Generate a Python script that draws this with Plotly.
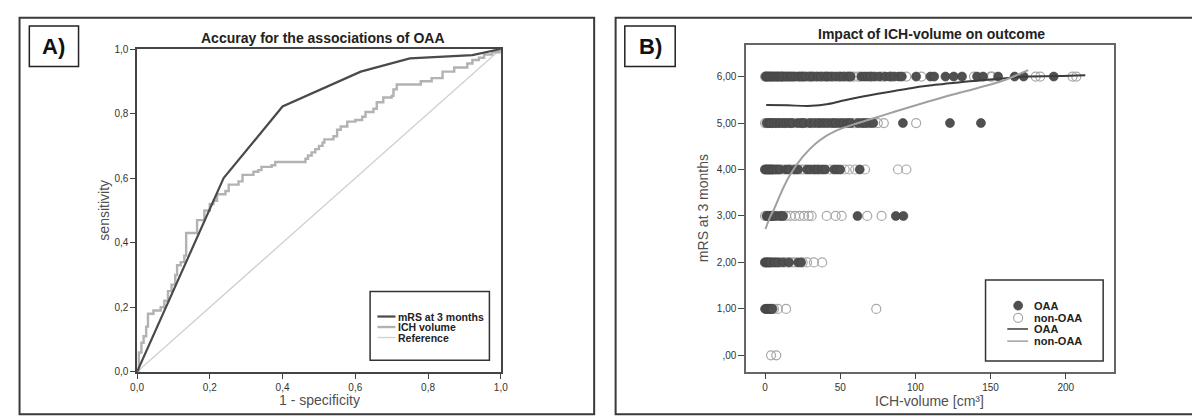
import plotly.graph_objects as go

# ---- panel A: ROC curves ----
roc_names = ["mRS at 3 months", "ICH volume", "Reference"]
roc_mrs_fpr = [0.0, 0.238, 0.40, 0.615, 0.75, 0.922, 1.0]
roc_mrs_tpr = [0.0, 0.60, 0.822, 0.93, 0.971, 0.981, 1.0]
roc_ich_fpr = [0.0, 0.005, 0.012, 0.018, 0.025, 0.030, 0.045, 0.065, 0.075, 0.085,
               0.095, 0.105, 0.110, 0.120, 0.130, 0.135, 0.165, 0.185, 0.200, 0.210,
               0.220, 0.243, 0.252, 0.279, 0.290, 0.320, 0.333, 0.342, 0.370, 0.380,
               0.463, 0.470, 0.480, 0.490, 0.500, 0.510, 0.515, 0.540, 0.550, 0.560,
               0.578, 0.600, 0.619, 0.628, 0.650, 0.659, 0.677, 0.700, 0.705, 0.714,
               0.780, 0.810, 0.840, 0.872, 0.908, 0.922, 0.940, 0.954, 0.976, 1.0]
roc_ich_tpr = [0.0, 0.06, 0.09, 0.11, 0.14, 0.18, 0.19, 0.20, 0.22, 0.25,
               0.27, 0.30, 0.33, 0.34, 0.36, 0.43, 0.47, 0.50, 0.52, 0.53,
               0.55, 0.56, 0.58, 0.59, 0.61, 0.62, 0.625, 0.635, 0.64, 0.65,
               0.66, 0.67, 0.68, 0.69, 0.70, 0.71, 0.72, 0.73, 0.75, 0.76,
               0.775, 0.78, 0.79, 0.805, 0.815, 0.835, 0.85, 0.855, 0.875, 0.89,
               0.90, 0.91, 0.93, 0.943, 0.955, 0.966, 0.973, 0.983, 0.99, 1.0]
ref_x = [0.0, 1.0]
ref_y = [0.0, 1.0]
roc_ticks = [0.0, 0.2, 0.4, 0.6, 0.8, 1.0]
roc_ticktext = ["0,0", "0,2", "0,4", "0,6", "0,8", "1,0"]

# ---- panel B: ICH volume vs mRS ----
oaa_mrs6 = [0.5, 1, 2, 3, 4, 5, 6, 7, 8, 9, 10, 11, 12, 14, 15, 17, 18, 20, 22, 24, 25, 27,
            30, 32, 35, 37, 40, 42, 44, 47, 50, 52, 55, 57, 64, 66, 68, 70, 73, 76, 80, 83,
            86, 89, 91, 100.5, 110, 112.5, 120, 125.5, 131, 141, 145, 155, 166, 172, 192]
oaa_mrs5 = [1, 3, 4, 6, 8, 10, 12, 14, 16, 18, 22, 24, 26, 30, 33, 36, 38, 40, 42, 45,
            47, 50, 52, 55, 57, 62, 65, 67, 70, 72, 91.7, 123, 143.6]
oaa_mrs4 = [0, 1, 2, 3, 4, 5, 6, 8, 10, 14, 16, 20, 22, 28, 30, 33, 35, 38, 40, 46, 48, 50, 63]
oaa_mrs3 = [1, 2, 3, 4, 5, 7, 10, 12, 61.5, 87, 92]
oaa_mrs2 = [0, 1, 2, 3, 4, 6, 7, 9, 12, 16, 22, 24]
oaa_mrs1 = [0, 1, 2, 3, 4, 5]

non_mrs6 = [0, 1, 3, 5, 8, 11, 13, 16, 19, 23, 26, 29, 31, 34, 38, 41, 45, 49, 53, 56, 59,
            62, 71, 78, 84, 94, 104, 139, 150, 151, 180, 183, 204.5, 207]
non_mrs5 = [0, 2, 5, 7, 9, 13, 17, 20, 25, 28, 31, 35, 44, 48, 54, 58, 60, 64, 68, 75, 79, 100.5]
non_mrs4 = [0, 2, 4, 7, 9, 12, 17, 19, 24, 26, 32, 36, 43, 53, 56, 60, 66.5, 88.4, 94]
non_mrs3 = [0, 2, 4, 6, 8, 11, 14, 17, 20, 23, 26, 29, 31, 41, 47, 51, 68, 77.5]
non_mrs2 = [0, 1, 3, 5, 8, 10, 13, 15, 18, 20, 25, 28, 32.5, 38]
non_mrs1 = [1, 3, 4, 6, 8.5, 14, 74]
non_mrs0 = [4, 7.5]

fit_oaa_vol = [0.8, 15, 31, 42, 53, 65, 75, 86, 97, 108, 119, 130, 141, 158, 174, 195, 213]
fit_oaa_mrs = [5.39, 5.38, 5.37, 5.41, 5.49, 5.57, 5.63, 5.69, 5.75, 5.80, 5.84, 5.88,
               5.91, 5.96, 6.0, 6.01, 6.03]
fit_non_vol = [0.3, 3, 6.3, 10, 16, 25, 36, 47, 62, 80, 97, 119, 141, 158, 175]
fit_non_mrs = [2.72, 2.95, 3.17, 3.45, 3.85, 4.27, 4.62, 4.83, 5.0, 5.18, 5.35, 5.56,
               5.75, 5.91, 6.14]
mrs_ticks = [0, 1, 2, 3, 4, 5, 6]
mrs_ticktext = [",00", "1,00", "2,00", "3,00", "4,00", "5,00", "6,00"]
vol_ticks = [0, 50, 100, 150, 200]
group_names = ["OAA", "non-OAA"]

W, H = 1200, 419
FONT = "Liberation Sans, Arial, sans-serif"
DARK = "#4a4a4a"
MID = "#b2b2b2"
LIGHT = "#d2d2d2"
OPEN = "#a8a8a8"


def px(x):
    return x / W


def py(y):
    return 1 - y / H


def rows(by_mrs):
    xs, ys = [], []
    for m, vals in by_mrs:
        xs += vals
        ys += [m] * len(vals)
    return xs, ys


oaa_x, oaa_y = rows([(6, oaa_mrs6), (5, oaa_mrs5), (4, oaa_mrs4), (3, oaa_mrs3),
                     (2, oaa_mrs2), (1, oaa_mrs1)])
non_x, non_y = rows([(6, non_mrs6), (5, non_mrs5), (4, non_mrs4), (3, non_mrs3),
                     (2, non_mrs2), (1, non_mrs1), (0, non_mrs0)])

fig = go.Figure()

fig.add_trace(go.Scatter(x=ref_x, y=ref_y, mode='lines', name=roc_names[2],
                         line=dict(color=LIGHT, width=1.4), xaxis='x', yaxis='y'))
fig.add_trace(go.Scatter(x=roc_ich_fpr, y=roc_ich_tpr, mode='lines', name=roc_names[1],
                         line=dict(color=MID, width=2.4, shape='hv'), xaxis='x', yaxis='y'))
fig.add_trace(go.Scatter(x=roc_mrs_fpr, y=roc_mrs_tpr, mode='lines', name=roc_names[0],
                         line=dict(color=DARK, width=2.2), xaxis='x', yaxis='y'))

fig.add_trace(go.Scatter(x=non_x, y=non_y, mode='markers', name=group_names[1],
                         marker=dict(size=9, symbol='circle-open', color=OPEN,
                                     line=dict(width=1.2)),
                         xaxis='x2', yaxis='y2'))
fig.add_trace(go.Scatter(x=oaa_x, y=oaa_y, mode='markers', name=group_names[0],
                         marker=dict(size=9, color='#505050', line=dict(width=0.6, color='#404040')),
                         xaxis='x2', yaxis='y2'))
fig.add_trace(go.Scatter(x=fit_oaa_vol, y=fit_oaa_mrs, mode='lines', name=group_names[0],
                         line=dict(color='#3c3c3c', width=2, shape='spline'),
                         xaxis='x2', yaxis='y2'))
fig.add_trace(go.Scatter(x=fit_non_vol, y=fit_non_mrs, mode='lines', name=group_names[1],
                         line=dict(color='#a0a0a0', width=2, shape='spline'),
                         xaxis='x2', yaxis='y2'))

axis_common = dict(showgrid=False, zeroline=False, showline=True, mirror=True,
                   ticks='outside', ticklen=5, tickwidth=1, tickcolor='#444',
                   tickfont=dict(family=FONT, size=10, color='#333'))

shapes = []
annotations = []


def box(x0, y0, x1, y1, color='#444', width=2):
    shapes.append(dict(type='rect', xref='paper', yref='paper',
                       x0=px(x0), x1=px(x1), y0=py(y1), y1=py(y0),
                       line=dict(color=color, width=width), layer='above'))


def text(x, y, s, size=11, bold=False, color='#222', xanchor='center', angle=0):
    annotations.append(dict(xref='paper', yref='paper', x=px(x), y=py(y),
                            text=f"<b>{s}</b>" if bold else s, showarrow=False,
                            xanchor=xanchor, yanchor='middle', textangle=angle,
                            font=dict(family=FONT, size=size, color=color)))


# panel frames and labels
box(4.6, 5, 586, 412, color='#3a3a3a', width=2)
box(607.7, 5, 1195, 412, color='#3a3a3a', width=2)
box(14.5, 13.3, 64.3, 55, color='#222', width=1.5)
box(617, 13.3, 668, 55, color='#222', width=1.5)
text(39.4, 34.5, "A)", size=22, bold=True, color='#111')
text(642.5, 34.5, "B)", size=22, bold=True, color='#111')

text(312, 25.5, "Accuray for the associations of OAA", size=14, bold=True)
text(927, 21.5, "Impact of ICH-volume on outcome", size=14, bold=True)
text(308, 397.5, "1 - specificity", size=14, color='#505050')
text(90, 202, "sensitivity", size=14, color='#505050', angle=-90)
text(925, 398, "ICH-volume [cm³]", size=14, color='#505050')
text(695.5, 200, "mRS at 3 months", size=14, color='#505050', angle=-90)

# legend A
box(359.3, 286, 480, 356.7, color='#333', width=1.5)
leg_a_colors = [DARK, MID, LIGHT]
leg_a_widths = [2.2, 2.4, 1.4]
for i, nm in enumerate(roc_names):
    yy = [311.7, 322.5, 333.3][i]
    shapes.append(dict(type='line', xref='paper', yref='paper', x0=px(366.7), x1=px(385),
                       y0=py(yy), y1=py(yy),
                       line=dict(color=leg_a_colors[i], width=leg_a_widths[i])))
    text(386, yy, nm, size=10.5, bold=True, xanchor='left')

# legend B
box(982, 274.3, 1101, 357.3, color='#333', width=1.5)
shapes.append(dict(type='circle', xref='paper', yref='paper', xsizemode='pixel',
                   ysizemode='pixel', xanchor=px(1015), yanchor=py(300.5),
                   x0=-4.5, x1=4.5, y0=-4.5, y1=4.5,
                   fillcolor='#505050', line=dict(color='#404040', width=0.6)))
shapes.append(dict(type='circle', xref='paper', yref='paper', xsizemode='pixel',
                   ysizemode='pixel', xanchor=px(1015), yanchor=py(313),
                   x0=-4.5, x1=4.5, y0=-4.5, y1=4.5,
                   line=dict(color=OPEN, width=1.2)))
for yy, col in [(324.5, '#3c3c3c'), (337, '#a0a0a0')]:
    shapes.append(dict(type='line', xref='paper', yref='paper', x0=px(1004), x1=px(1025),
                       y0=py(yy), y1=py(yy), line=dict(color=col, width=1.5)))
for yy, nm in zip([300.5, 313, 324.5, 337], group_names + group_names):
    text(1029.5, yy, nm, size=11, bold=True, xanchor='left')

fig.update_layout(
    width=W, height=H,
    margin=dict(l=0, r=0, t=0, b=0),
    paper_bgcolor='white', plot_bgcolor='white',
    showlegend=False,
    xaxis=dict(axis_common, domain=[px(123.5), px(491.5)], anchor='y', range=[0, 1],
               tickvals=roc_ticks, ticktext=roc_ticktext, linecolor='#444', linewidth=1.5),
    yaxis=dict(axis_common, domain=[py(368.5), py(37)], anchor='x', range=[0, 1],
               tickvals=roc_ticks, ticktext=roc_ticktext, linecolor='#444', linewidth=1.5),
    xaxis2=dict(axis_common, domain=[px(739.7), px(1111.7)], anchor='y2', range=[-12.6, 231.9],
                tickvals=vol_ticks, ticktext=[str(v) for v in vol_ticks],
                linecolor='#666', linewidth=1.5, ticklen=6),
    yaxis2=dict(axis_common, domain=[py(368.3), py(33.3)], anchor='x2', range=[-0.35, 6.67],
                tickvals=mrs_ticks, ticktext=mrs_ticktext,
                linecolor='#666', linewidth=1.5, ticklen=6),
    shapes=shapes,
    annotations=annotations,
)

fig.write_html("out.html")
